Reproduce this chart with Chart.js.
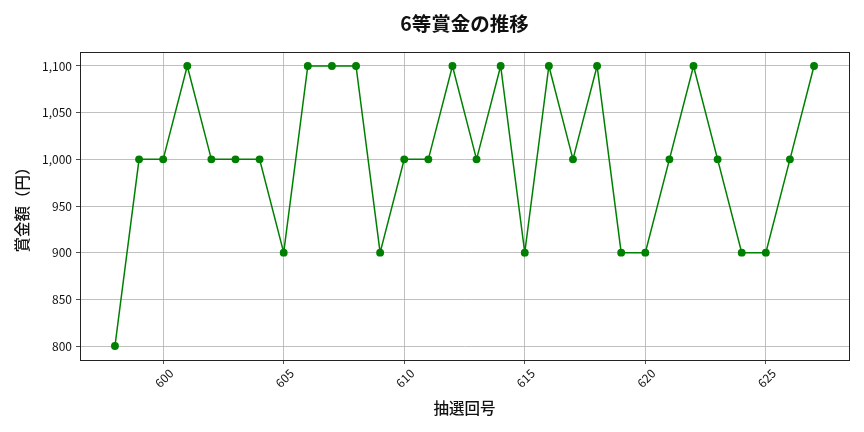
<!DOCTYPE html>
<html>
<head>
<meta charset="utf-8">
<script src="https://cdn.jsdelivr.net/npm/chart.js@4"></script>
<style>
  html, body { margin: 0; padding: 0; background: #fff; }
  #wrap { width: 864px; height: 432px; }
</style>
</head>
<body>
<div id="wrap"><canvas id="chart" width="864" height="432"></canvas></div>
<script>
/* ---------- Data ---------- */
const draws  = [598, 599, 600, 601, 602, 603, 604, 605, 606, 607,
                608, 609, 610, 611, 612, 613, 614, 615, 616, 617,
                618, 619, 620, 621, 622, 623, 624, 625, 626, 627];
const prizes = [800, 1000, 1000, 1100, 1000, 1000, 1000, 900, 1100, 1100,
                1100, 900, 1000, 1000, 1100, 1000, 1100, 900, 1100, 1000,
                1100, 900, 900, 1000, 1100, 1000, 900, 900, 1000, 1100];
const xTicks = [600, 605, 610, 615, 620, 625];
const yTicks = [800, 850, 900, 950, 1000, 1050, 1100];
const chartTitle = '6等賞金の推移';

const FONT = '"Noto Sans CJK JP", "Noto Sans", sans-serif';

/* frame around plot area + title centred over it */
const framePlugin = {
  id: 'frame',
  afterDraw(chart) {
    const a = chart.chartArea, ctx = chart.ctx;
    ctx.save();
    ctx.strokeStyle = '#222';
    ctx.lineWidth = 1;
    ctx.strokeRect(a.left + 0.5, a.top + 0.5, a.right - a.left, a.bottom - a.top);
    ctx.fillStyle = '#111';
    ctx.font = '600 19.5px ' + FONT;
    ctx.textAlign = 'center';
    ctx.textBaseline = 'middle';
    ctx.fillText(chartTitle, (a.left + a.right) / 2, 24);
    ctx.restore();
  }
};

new Chart(document.getElementById('chart'), {
  type: 'line',
  data: {
    datasets: [{
      data: draws.map((d, i) => ({ x: d, y: prizes[i] })),
      borderColor: '#008000',
      backgroundColor: '#008000',
      borderWidth: 1.5,
      pointRadius: 3.2,
      pointHoverRadius: 3.2,
      tension: 0
    }]
  },
  options: {
    responsive: false,
    animation: false,
    layout: { padding: { top: 52, right: 15, left: 0, bottom: 0 } },
    plugins: {
      legend: { display: false },
      tooltip: { enabled: false },
      title: { display: false }
    },
    scales: {
      x: {
        type: 'linear',
        min: 596.55,
        max: 628.45,
        afterBuildTicks: s => { s.ticks = xTicks.map(v => ({ value: v })); },
        afterFit: s => { s.height = 72; },
        grid: { color: '#b0b0b0', lineWidth: 0.8, tickColor: '#222', tickLength: 4 },
        border: { display: false },
        ticks: {
          color: '#111',
          font: { family: FONT, size: 12 },
          minRotation: 45,
          maxRotation: 45,
          labelOffset: 8,
          padding: 2,
          callback: v => String(v)
        },
        title: {
          display: true,
          text: '抽選回号',
          color: '#111',
          font: { family: FONT, size: 15.5, weight: '500', lineHeight: 1.2 },
          padding: { top: 0, bottom: 14.7 }
        }
      },
      y: {
        min: 785,
        max: 1115,
        afterBuildTicks: s => { s.ticks = yTicks.map(v => ({ value: v })); },
        afterFit: s => { s.width = 80; },
        grid: { color: '#b0b0b0', lineWidth: 0.8, tickColor: '#222', tickLength: 4 },
        border: { display: false },
        ticks: {
          color: '#111',
          font: { family: FONT, size: 12 },
          padding: 4,
          callback: v => v.toLocaleString('en-US')
        },
        title: {
          display: true,
          text: '賞金額（円）',
          color: '#111',
          font: { family: FONT, size: 15.5, weight: '500', lineHeight: 1.2 },
          padding: { top: 12.7, bottom: 0 }
        }
      }
    }
  },
  plugins: [framePlugin]
});
</script>
</body>
</html>
